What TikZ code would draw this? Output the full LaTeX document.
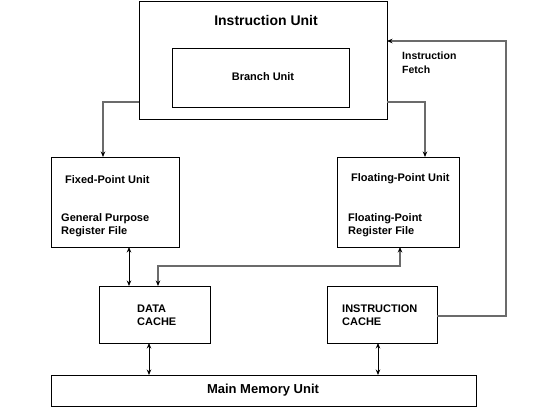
\documentclass[tikz,border=0pt]{standalone}
\usepackage{fontspec}
\setmainfont{Liberation Sans}
\usetikzlibrary{arrows.meta}
\begin{document}
\begin{tikzpicture}[x=1pt,y=-1pt,
  box/.style={draw=black,line width=0.9pt,rectangle,inner sep=0pt,outer sep=0pt,anchor=north west},
  tip/.style={Stealth[length=5.5pt,width=4.5pt,color=black]},
  conn/.style={draw=black!58,line width=1.3pt,-{Stealth[length=5.5pt,width=4.5pt,color=black]}},
  dbl/.style={draw=black,line width=1pt,{Stealth[length=5.5pt,width=4.5pt]}-{Stealth[length=5.5pt,width=4.5pt]}},
  lbl/.style={font=\bfseries\fontsize{11}{13}\selectfont,inner sep=0pt,anchor=west,align=left},
  big/.style={font=\bfseries\fontsize{14}{16}\selectfont,inner sep=0pt}]
\useasboundingbox[fill=white] (0,0) rectangle (546,408);
% boxes
\node[box,minimum width=248pt,minimum height=118pt] (iu) at (139,1) {};
\node[box,minimum width=177pt,minimum height=59pt] (bu) at (172,48) {};
\node[box,minimum width=128pt,minimum height=90pt] (fxu) at (51,157) {};
\node[box,minimum width=122pt,minimum height=90pt] (flu) at (337,157) {};
\node[box,minimum width=111pt,minimum height=57pt] (dc) at (99,286) {};
\node[box,minimum width=110pt,minimum height=57pt] (ic) at (327,286) {};
\node[box,minimum width=425pt,minimum height=31pt] (mm) at (51,375) {};
% texts
\node[big] (tiu) at (266,20) {Instruction Unit};
\node[lbl,anchor=center] (tbu) at (263,77) {Branch Unit};
\node[lbl] (tfxu) at (65,180) {Fixed-Point Unit};
\node[lbl] (tgpr) at (61,225) {General Purpose\\Register File};
\node[lbl] (tflu) at (351,179) {Floating-Point Unit};
\node[lbl] (tfpr) at (348,225) {Floating-Point\\Register File};
\node[lbl] (tdc) at (137,315) {DATA\\CACHE};
\node[lbl] (tic) at (342,315) {INSTRUCTION\\CACHE};
\node[lbl,font=\bfseries\fontsize{10.5}{14}\selectfont] (tif) at (402,63) {Instruction\\Fetch};
\node[big,font=\bfseries\fontsize{13}{15}\selectfont] (tmm) at (263,390) {Main Memory Unit};
% connectors
\draw[conn] ([yshift=17pt]iu.south west) -| ([xshift=52pt]fxu.north west);
\draw[conn] ([yshift=17pt]iu.south east) -| ([xshift=-34pt]flu.north east);
\coordinate (fe) at (506,41);
\draw[conn,{Stealth[length=5.5pt,width=4.5pt,color=black]}-] ([yshift=-40pt]iu.north east) -- (fe) |- ([yshift=-1.5pt]ic.east);
\coordinate (a1) at ([xshift=78pt]fxu.south west);
\draw[dbl] (a1) -- (a1 |- dc.north);
\coordinate (a2) at ([xshift=63pt]flu.south west);
\coordinate (a3) at ([xshift=59pt]dc.north west);
\draw[conn,{Stealth[length=5.5pt,width=4.5pt,color=black]}-{Stealth[length=5.5pt,width=4.5pt,color=black]}] (a2) -- ++(0,19) -| (a3);
\coordinate (a4) at ([xshift=50pt]dc.south west);
\draw[dbl] (a4) -- (a4 |- mm.north);
\coordinate (a5) at ([xshift=51pt]ic.south west);
\draw[dbl] (a5) -- (a5 |- mm.north);
\end{tikzpicture}
\end{document}
